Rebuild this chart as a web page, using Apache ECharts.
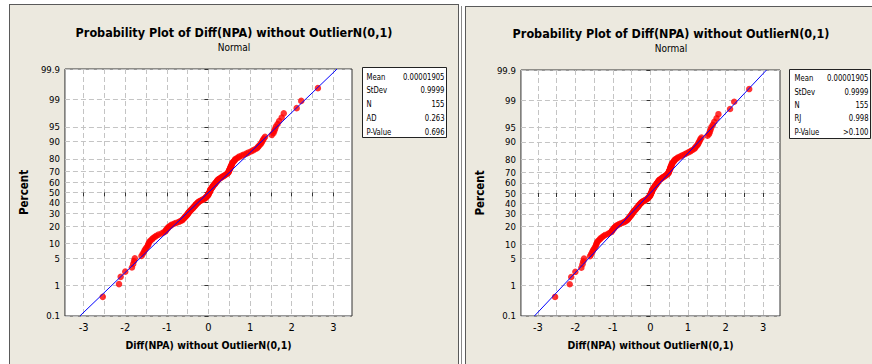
<!DOCTYPE html>
<html>
<head>
<meta charset="utf-8">
<script src="https://cdn.jsdelivr.net/npm/echarts@6/dist/echarts.min.js"></script>
<style>
  html, body { margin: 0; padding: 0; background: #fff; width: 872px; height: 364px; overflow: hidden; }
  .panel { position: absolute; box-sizing: border-box; border: 1px solid #5a5a5a; background: #ECE9DF; }
  .panel > div { width: 100%; height: 100%; }
  .sep { position: absolute; top: 6px; left: 461px; width: 1px; height: 360px; background: #8a8a8a; }
</style>
</head>
<body>
<div class="panel" style="left:9px;top:4px;width:450px;height:372px"><div id="left"></div></div>
<div class="sep"></div>
<div class="panel" style="left:465px;top:6px;width:412px;height:372px"><div id="right"></div></div>
<script>
// sorted residuals
const diffValues = [
  -2.54, -2.15, -2.11, -2.00, -1.84, -1.81, -1.79, -1.77, -1.61, -1.58,
  -1.55, -1.53, -1.50, -1.47, -1.45, -1.44, -1.42, -1.40, -1.36, -1.33,
  -1.29, -1.25, -1.20, -1.13, -1.08, -1.04, -1.02, -1.01, -0.98, -0.97,
  -0.94, -0.91, -0.88, -0.83, -0.78, -0.72, -0.68, -0.64, -0.62, -0.60,
  -0.58, -0.57, -0.55, -0.53, -0.52, -0.50, -0.49, -0.48, -0.46, -0.45,
  -0.43, -0.42, -0.40, -0.38, -0.37, -0.35, -0.34, -0.32, -0.31, -0.30,
  -0.28, -0.26, -0.25, -0.23, -0.20, -0.17, -0.14, -0.11, -0.08, -0.07,
  -0.05, -0.04, -0.02, -0.01, 0.00, 0.00, 0.01, 0.02, 0.03, 0.04,
  0.04, 0.04, 0.06, 0.06, 0.08, 0.09, 0.10, 0.11, 0.12, 0.14,
  0.15, 0.16, 0.17, 0.19, 0.20, 0.21, 0.22, 0.24, 0.26, 0.29,
  0.31, 0.34, 0.37, 0.39, 0.42, 0.45, 0.46, 0.48, 0.49, 0.49,
  0.50, 0.51, 0.52, 0.53, 0.53, 0.54, 0.55, 0.56, 0.57, 0.57,
  0.59, 0.61, 0.63, 0.64, 0.67, 0.71, 0.74, 0.80, 0.85, 0.91,
  0.96, 1.02, 1.07, 1.12, 1.17, 1.19, 1.22, 1.25, 1.27, 1.29,
  1.31, 1.33, 1.36, 1.52, 1.56, 1.58, 1.60, 1.62, 1.66, 1.70,
  1.76, 1.81, 2.12, 2.23, 2.63
];
const percentTicks = [0.1, 1, 5, 10, 20, 30, 40, 50, 60, 70, 80, 90, 95, 99, 99.9];
const xLabelTicks = [-3, -2, -1, 0, 1, 2, 3];
const xGridTicks = [-3, -2.5, -2, -1.5, -1, -0.5, 0, 0.5, 1, 1.5, 2, 2.5, 3];
const statNamesAD = ['Mean', 'StDev', 'N', 'AD', 'P-Value'];
const statValuesAD = ['0.00001905', '0.9999', '155', '0.263', '0.696'];
const statNamesRJ = ['Mean', 'StDev', 'N', 'RJ', 'P-Value'];
const statValuesRJ = ['0.00001905', '0.9999', '155', '0.998', '>0.100'];
const fitMean = 0.00001905;
const fitStDev = 0.9999;

const FONT = "'DejaVu Sans Condensed', 'Liberation Sans', sans-serif";

// inverse normal cdf (Acklam), used for the probability scale
function invNorm(p) {
  const a = [-39.69683028665376, 220.9460984245205, -275.9285104469687, 138.3577518672690, -30.66479806614716, 2.506628277459239];
  const b = [-54.47609879822406, 161.5858368580409, -155.6989798598866, 66.80131188771972, -13.28068155288572];
  const c = [-0.007784894002430293, -0.3223964580411365, -2.400758277161838, -2.549732539343734, 4.374664141464968, 2.938163982698783];
  const d = [0.007784695709041462, 0.3224671290700398, 2.445134137142996, 3.754408661907416];
  const pl = 0.02425;
  if (p < pl) {
    const q = Math.sqrt(-2 * Math.log(p));
    return (((((c[0] * q + c[1]) * q + c[2]) * q + c[3]) * q + c[4]) * q + c[5]) / ((((d[0] * q + d[1]) * q + d[2]) * q + d[3]) * q + 1);
  }
  if (p > 1 - pl) {
    const q = Math.sqrt(-2 * Math.log(1 - p));
    return -(((((c[0] * q + c[1]) * q + c[2]) * q + c[3]) * q + c[4]) * q + c[5]) / ((((d[0] * q + d[1]) * q + d[2]) * q + d[3]) * q + 1);
  }
  const q = p - 0.5, r = q * q;
  return (((((a[0] * r + a[1]) * r + a[2]) * r + a[3]) * r + a[4]) * r + a[5]) * q / (((((b[0] * r + b[1]) * r + b[2]) * r + b[3]) * r + b[4]) * r + 1);
}

const zTicks = percentTicks.map(p => invNorm(p / 100));
const pctLabel = v => {
  let k = 0;
  zTicks.forEach((z, i) => { if (Math.abs(z - v) < Math.abs(zTicks[k] - v)) k = i; });
  return String(percentTicks[k]);
};

const drawPlot = (node, cfg) => {
  const chart = echarts.init(node, null, { renderer: 'svg' });
  const n = diffValues.length;
  // median ranks (i - 0.3)/(n + 0.4) on the normal scale
  const points = diffValues.map((v, i) => [v, invNorm((i + 1 - 0.3) / (n + 0.4))]);
  const zEnd = invNorm(0.999);
  const fitLine = [[fitMean - zEnd * fitStDev, -zEnd], [fitMean + zEnd * fitStDev, zEnd]];
  const box = cfg.box;

  const boxTexts = [];
  cfg.names.forEach((s, k) => {
    boxTexts.push({
      type: 'text', x: box.padL, y: box.row0 + k * box.rowGap, scaleX: 0.85,
      style: { text: s, fill: '#000', font: '9px ' + FONT, verticalAlign: 'middle', textVerticalAlign: 'middle' }
    });
  });
  cfg.values.forEach((s, k) => {
    boxTexts.push({
      type: 'text', x: box.w - box.padR, y: box.row0 + k * box.rowGap, scaleX: 0.85,
      style: { text: s, fill: '#000', font: '9px ' + FONT, align: 'right', textAlign: 'right', verticalAlign: 'middle', textVerticalAlign: 'middle' }
    });
  });

  chart.setOption({
    animation: false,
    backgroundColor: 'transparent',
    title: {
      text: 'Probability Plot of Diff(NPA) without OutlierN(0,1)',
      subtext: 'Normal',
      left: 'center',
      top: cfg.titleTop,
      itemGap: 3,
      textStyle: { fontFamily: FONT, fontSize: 12.5, fontWeight: 'bold', color: '#000' },
      subtextStyle: { fontFamily: FONT, fontSize: 10, color: '#000' }
    },
    grid: {
      left: cfg.grid.left, top: cfg.grid.top, width: cfg.grid.width, height: cfg.grid.height,
      show: true, backgroundColor: '#fff', borderColor: '#333', borderWidth: 1
    },
    xAxis: {
      type: 'value',
      min: -3.45,
      max: 3.45,
      name: 'Diff(NPA) without OutlierN(0,1)',
      nameLocation: 'middle',
      nameGap: 23,
      nameTextStyle: { fontFamily: FONT, fontSize: 10.5, fontWeight: 'bold', color: '#000' },
      axisLine: { show: false },
      axisTick: { show: true, length: 4, customValues: xGridTicks, lineStyle: { color: '#333' } },
      axisLabel: { customValues: xLabelTicks, fontFamily: FONT, fontSize: 11, color: '#000', margin: 6 },
      splitLine: { show: true, lineStyle: { color: '#c4c4c4', type: [5, 3] } }
    },
    yAxis: {
      type: 'value',
      min: -zEnd - 0.0005,
      max: zEnd + 0.0005,
      name: 'Percent',
      nameLocation: 'middle',
      nameGap: 28,
      nameTextStyle: { fontFamily: FONT, fontSize: 11.5, fontWeight: 'bold', color: '#000' },
      axisLine: { show: false },
      axisTick: { show: true, length: 4, customValues: zTicks, lineStyle: { color: '#333' } },
      axisLabel: { customValues: zTicks, showMaxLabel: true, showMinLabel: true, formatter: pctLabel, fontFamily: FONT, fontSize: 9.5, color: '#000', margin: 5 },
      splitLine: { show: true, lineStyle: { color: '#c4c4c4', type: [5, 3] } }
    },
    graphic: [{
      type: 'group', left: box.x, top: box.y,
      children: [
        { type: 'rect', shape: { x: 0, y: 0, width: box.w, height: box.h }, style: { fill: '#fff', stroke: '#222', lineWidth: 1 } },
        ...boxTexts
      ]
    }],
    series: [
      {
        type: 'line',
        data: fitLine,
        symbol: 'none',
        lineStyle: { color: '#0000ff', width: 1 },
        silent: true
      },
      {
        type: 'scatter',
        data: points,
        symbolSize: 6.5,
        itemStyle: { color: '#ff0000' }
      }
    ]
  });
};

drawPlot(document.getElementById('left'), {
  titleTop: 16,
  grid: { left: 51, top: 64, width: 291, height: 247 },
  box: { x: 352, y: 62, w: 84, h: 70, padL: 4, padR: 2, row0: 9, rowGap: 13.7 },
  names: statNamesAD,
  values: statValuesAD
});

drawPlot(document.getElementById('right'), {
  titleTop: 15,
  grid: { left: 46, top: 63, width: 268, height: 246 },
  box: { x: 323, y: 62, w: 81, h: 69, padL: 5, padR: 2, row0: 8.5, rowGap: 13.4 },
  names: statNamesRJ,
  values: statValuesRJ
});
</script>
</body>
</html>
